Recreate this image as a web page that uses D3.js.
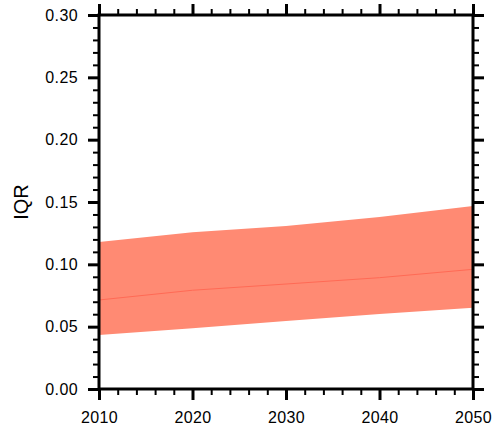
<!DOCTYPE html>
<html><head><meta charset="utf-8">
<script src="https://cdn.jsdelivr.net/npm/d3@7"></script>
<style>body{margin:0;background:#fff;}svg{display:block;}</style>
</head><body>
<svg id="c" width="493" height="432"></svg>
<script>
const years = [2010, 2020, 2030, 2040, 2050];
const upper = [0.1179, 0.1257, 0.1307, 0.1380, 0.1468];
const median = [0.0714, 0.0792, 0.0842, 0.0893, 0.0960];
const lower = [0.0433, 0.0487, 0.0545, 0.0602, 0.0652];
const xTicks = [2010, 2020, 2030, 2040, 2050];
const yTicks = [0.00, 0.05, 0.10, 0.15, 0.20, 0.25, 0.30];
const yLabel = "IQR";

const svg = d3.select("#c");
const L = 99, R = 473, T = 15, B = 389;
const x = d3.scaleLinear().domain([2010, 2050]).range([L, R]);
const y = d3.scaleLinear().domain([0, 0.30]).range([B, T]);

const data = years.map((yr, i) => ({yr, lo: lower[i], hi: upper[i], med: median[i]}));

svg.append("path").datum(data)
  .attr("d", d3.area().x(d => x(d.yr)).y0(d => y(d.lo)).y1(d => y(d.hi)))
  .attr("fill", "#ff8a73");
svg.append("path").datum(data)
  .attr("d", d3.line().x(d => x(d.yr)).y(d => y(d.med)))
  .attr("fill", "none").attr("stroke", "#ff6a55").attr("stroke-width", 1);

const xMinor = d3.range(2010, 2050.1, 2).filter(v => !xTicks.includes(v));
const yMinor = d3.range(0, 31, 1).map(v => v / 100).filter(v => !yTicks.some(t => Math.abs(t - v) < 1e-9));

function addAxis(axisFn, scale, tf, major, minor, labels) {
  const gMin = svg.append("g").attr("transform", tf)
    .call(axisFn(scale).tickValues(minor).tickSize(6).tickFormat(""));
  gMin.selectAll("line").attr("stroke", "#000").attr("stroke-width", 2);
  gMin.select(".domain").remove();
  const gMaj = svg.append("g").attr("transform", tf)
    .call(axisFn(scale).tickValues(major).tickSize(11).tickPadding(10)
      .tickFormat(labels ? labels : ""));
  gMaj.selectAll("line").attr("stroke", "#000").attr("stroke-width", 3);
  gMaj.select(".domain").remove();
  gMaj.selectAll("text").attr("font-family", "Liberation Sans, Arial, sans-serif")
    .attr("font-size", 16).attr("fill", "#000").attr("letter-spacing", "0.4px");
  return gMaj;
}
addAxis(d3.axisLeft, y, `translate(${L},0)`, yTicks, yMinor, d3.format(".2f"));
addAxis(d3.axisRight, y, `translate(${R},0)`, yTicks, yMinor, null);
const gb = addAxis(d3.axisBottom, x, `translate(0,${B})`, xTicks, xMinor, d3.format("d"));
gb.selectAll("text").attr("y", 34).attr("dy", 0);
addAxis(d3.axisTop, x, `translate(0,${T})`, xTicks, xMinor, null);

svg.append("rect").attr("x", L).attr("y", T).attr("width", R - L).attr("height", B - T)
  .attr("fill", "none").attr("stroke", "#000").attr("stroke-width", 3);

svg.append("text").attr("transform", `translate(${28},${(T + B) / 2}) rotate(-90)`)
  .attr("text-anchor", "middle").attr("font-family", "Liberation Sans, Arial, sans-serif")
  .attr("font-size", 20).attr("fill", "#000").text(yLabel);
</script>
</body></html>
